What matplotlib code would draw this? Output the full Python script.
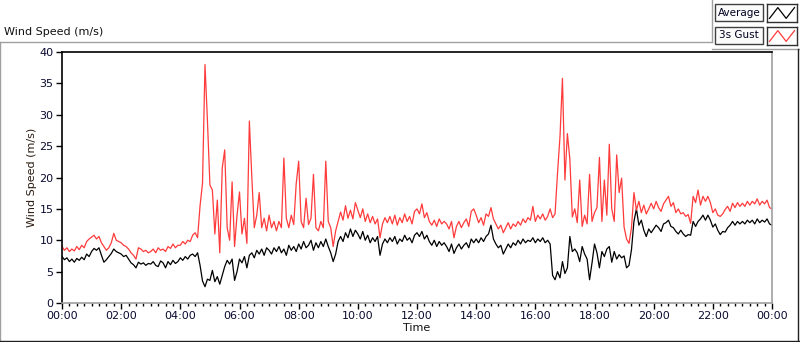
import matplotlib
matplotlib.use("Agg")
import matplotlib.pyplot as plt
import numpy as np
from matplotlib.lines import Line2D
from matplotlib.patches import Rectangle
from matplotlib.ticker import MultipleLocator, FuncFormatter

# 5-minute samples, one row per hour (00:00 ... 23:55) plus the 24:00 value
average = [
    7.4, 6.9, 7.2, 6.6, 7.0, 6.5, 7.1, 6.8, 7.3, 6.9, 7.8, 7.4,
    8.2, 8.7, 8.4, 8.8, 7.6, 6.5, 6.9, 7.4, 7.9, 8.6, 8.2, 8.0,
    7.8, 7.4, 7.6, 7.0, 6.4, 6.1, 5.6, 6.5, 6.2, 6.4, 6.0, 6.3,
    6.2, 6.6, 6.0, 5.8, 6.7, 6.4, 5.6, 6.6, 6.1, 6.8, 6.3, 6.6,
    7.2, 6.8, 7.4, 7.0, 7.6, 7.8, 7.4, 8.0, 6.0, 3.5, 2.6, 3.8,
    3.6, 5.2, 3.4, 4.2, 3.0, 4.4, 5.8, 6.8, 6.2, 7.0, 3.6, 5.0,
    7.0, 6.4, 7.4, 5.6, 7.6, 8.0, 7.2, 8.4, 7.8, 8.6, 7.6, 8.8,
    8.4, 7.8, 8.8, 8.2, 9.0, 8.0, 8.6, 7.6, 9.2, 8.4, 9.0, 8.2,
    9.4, 8.6, 9.8, 8.8, 9.2, 10.0, 8.4, 9.6, 8.8, 9.8, 9.0, 10.2,
    9.0, 8.0, 6.6, 7.8, 9.8, 10.6, 9.8, 11.2, 10.4, 11.8, 10.6, 11.6,
    11.0, 10.2, 11.4, 10.0, 10.8, 9.6, 10.4, 9.8, 10.6, 7.6, 9.4, 10.2,
    9.6, 10.4, 9.8, 10.6, 9.4, 10.2, 9.8, 10.8, 10.0, 10.4, 9.6, 10.8,
    11.2, 10.6, 11.4, 10.2, 10.8, 9.8, 9.2, 10.0, 9.0, 9.8, 9.2, 9.6,
    9.0, 8.2, 9.4, 7.9, 8.8, 9.4, 8.6, 9.2, 9.6, 8.8, 10.2, 9.6,
    10.2, 9.6, 10.4, 9.8, 10.6, 11.0, 12.4, 10.2, 9.4, 8.8, 9.2, 7.8,
    8.6, 9.4, 8.8, 9.6, 9.2, 10.0, 9.4, 10.2, 9.6, 10.0, 9.8, 10.4,
    9.6, 10.2, 9.8, 10.4, 9.6, 10.0, 9.4, 4.4, 3.7, 5.0, 4.0, 6.6,
    4.7, 5.6, 10.6, 8.2, 8.6, 8.0, 6.6, 9.0, 7.8, 7.0, 3.7, 6.4,
    9.4, 8.0, 5.6, 8.2, 7.4, 8.6, 9.0, 6.5, 8.2, 7.0, 7.7, 7.2,
    7.5, 5.6, 6.0, 8.5, 13.0, 15.0, 12.4, 13.2, 11.6, 10.6, 11.8, 11.2,
    11.8, 12.4, 12.0, 11.4, 12.6, 12.8, 13.2, 12.2, 12.0, 11.4, 11.0, 11.6,
    11.0, 10.6, 10.9, 10.8, 13.0, 12.2, 13.0, 13.4, 14.0, 13.2, 14.0, 13.2,
    12.1, 12.6, 11.6, 10.9, 11.4, 11.3, 12.0, 12.4, 13.0, 12.4, 13.0, 12.6,
    13.0, 12.6, 13.2, 12.8, 13.2, 12.6, 13.4, 12.8, 13.2, 12.9, 13.4, 12.6,
    12.4,
]

gust = [
    9.0, 8.4, 8.8, 8.2, 8.6, 8.3, 9.0, 8.5, 9.2, 8.8, 9.8, 10.2,
    10.5, 10.8, 10.2, 10.6, 9.6, 9.0, 8.4, 8.8, 9.6, 11.1, 10.0, 9.8,
    9.6, 9.2, 9.0, 8.6, 8.0, 7.6, 7.0, 8.8, 8.6, 8.2, 8.4, 8.0,
    8.2, 8.6, 8.0, 8.8, 8.4, 8.6, 8.2, 9.0, 8.7, 9.4, 8.8, 9.2,
    9.2, 9.8, 9.4, 10.0, 9.8, 10.8, 11.2, 10.4, 15.5, 19.1, 38.0, 29.0,
    18.8, 18.0, 11.0, 16.4, 8.0, 21.5, 24.4, 12.0, 10.0, 19.3, 9.0, 14.0,
    17.7, 11.0, 13.5, 9.5, 29.0, 20.0, 12.0, 14.0, 17.6, 12.0, 13.5, 11.5,
    14.0, 12.0, 13.0, 11.5, 13.0, 12.0, 23.1, 13.5, 12.0, 14.0, 12.5, 19.0,
    22.6, 13.0, 12.0, 16.7, 12.5, 13.5, 20.5, 12.0, 11.5, 13.0, 12.0, 22.6,
    13.0, 12.0, 9.0, 11.5, 13.0, 14.5, 13.2, 15.5, 13.5, 14.8, 13.4, 16.0,
    14.8, 13.6, 15.0, 13.0, 14.2, 12.8, 13.8, 12.6, 13.4, 10.4, 12.6, 13.6,
    12.8, 13.8, 12.6, 14.0, 12.4, 13.6, 12.8, 14.2, 13.0, 13.8, 12.6, 14.6,
    15.0, 14.2, 15.8, 13.6, 14.4, 13.0, 12.4, 13.2, 12.2, 13.4, 12.6, 13.0,
    12.6, 11.8, 13.0, 10.4, 12.2, 13.0, 12.0, 12.8, 13.4, 12.2, 14.6, 15.0,
    14.0, 12.8, 13.6, 12.4, 14.2, 13.8, 15.2, 13.4, 12.6, 11.8, 12.4, 11.2,
    12.0, 12.8, 11.8, 12.6, 12.2, 13.0, 12.4, 13.4, 12.8, 13.6, 13.2, 15.4,
    13.0, 14.0, 13.4, 14.2, 13.2, 13.8, 15.0, 13.6, 14.2, 20.7, 26.5, 35.8,
    19.6, 27.0, 22.9, 13.7, 15.0, 12.8, 19.6, 12.2, 14.0, 12.6, 20.5, 13.0,
    14.4, 15.2, 23.2, 13.0, 19.6, 14.0, 25.3, 15.0, 13.0, 23.6, 17.6, 19.9,
    12.1, 10.2, 9.5, 12.0, 17.6, 14.8, 16.2, 14.4, 15.6, 14.2, 15.0, 15.9,
    15.0, 16.2, 15.2, 14.6, 15.8, 16.4, 17.0, 15.4, 16.0, 14.4, 15.0, 14.2,
    14.4, 13.8, 14.1, 12.7, 17.0, 16.0, 18.0, 15.6, 17.0, 16.2, 17.0, 16.0,
    14.4, 15.0, 14.0, 13.8, 14.2, 14.9, 15.4, 14.6, 15.9, 15.2, 16.0, 15.4,
    15.9, 15.4, 16.2, 15.6, 16.2, 15.8, 16.6, 15.6, 16.2, 15.8, 16.4, 15.2,
    15.0,
]

series_names = ["Average", "3s Gust"]
series_colors = ["#000000", "#ff3b3b"]

hours = np.arange(len(average)) * 5 / 60.0

W, H = 800, 342
fig = plt.figure(figsize=(W / 100, H / 100), dpi=100)
fig.patch.set_facecolor("white")


def fx(px):
    return px / W


def fy(py):
    return 1 - py / H


def fline(x0, y0, x1, y1, color="#a0a0a0", lw=1.0):
    fig.add_artist(Line2D([fx(x0), fx(x1)], [fy(y0), fy(y1)],
                          transform=fig.transFigure, color=color, lw=lw))


# outer panel frame
fline(0, 42, 712, 42)
fline(712, 42, 712, 0)
fline(712, 49, 799, 49)
fline(0, 42, 0, 341)
fline(798, 49, 798, 341, color="#202020")
fline(0, 340.5, 799, 340.5, color="#202020")

fig.text(fx(4), fy(32), "Wind Speed (m/s)", fontsize=8, va="center", ha="left",
         color="#111111")

# plot area
ax = fig.add_axes([fx(62), fy(303), fx(772 - 62), (303 - 52) / H])
ax.plot(hours, average, color=series_colors[0], lw=0.9)
ax.plot(hours, gust, color=series_colors[1], lw=0.9)

ax.set_xlim(0, 24)
ax.set_ylim(0, 40)
ax.yaxis.set_major_locator(MultipleLocator(5))
ax.xaxis.set_major_locator(MultipleLocator(2))
ax.xaxis.set_minor_locator(MultipleLocator(0.25))
ax.xaxis.set_major_formatter(FuncFormatter(lambda v, p: "%02d:00" % (int(round(v)) % 24)))
ax.tick_params(axis="both", which="major", direction="out", length=4, width=1,
               labelsize=8, colors="#000000", labelcolor="#0a0a30", pad=2)
ax.tick_params(axis="x", which="minor", direction="out", length=2.5, width=1)

for side in ["left", "top"]:
    ax.spines[side].set_color("#000000")
    ax.spines[side].set_linewidth(1.2)
for side in ["right", "bottom"]:
    ax.spines[side].set_color("#a0a0a0")
    ax.spines[side].set_linewidth(1.2)

ax.set_xlabel("Time", fontsize=8, labelpad=1, color="#111111")
ax.set_ylabel("Wind Speed (m/s)", fontsize=8, labelpad=2, color="#2a1a10")

# legend in LabVIEW style
for i, (name, col) in enumerate(zip(series_names, series_colors)):
    top = 4 + i * 23
    fig.add_artist(Rectangle((fx(715), fy(top + 17)), fx(48), 17 / H,
                             transform=fig.transFigure, facecolor="#fbfbfb",
                             edgecolor="#404040", lw=1))
    fig.text(fx(739), fy(top + 8.5), name, fontsize=7.5, va="center", ha="center",
             color="#000020")
    iax = fig.add_axes([fx(767), fy(top + 18), fx(30), 18 / H])
    iax.plot([0, 1, 2, 3], [0.2, 0.8, 0.2, 0.8], color=col, lw=0.9)
    iax.set_xlim(-0.3, 3.3)
    iax.set_ylim(0, 1)
    iax.set_xticks([])
    iax.set_yticks([])
    for s in iax.spines.values():
        s.set_color("#303030")
        s.set_linewidth(1)

fig.savefig("out.png", dpi=100)
